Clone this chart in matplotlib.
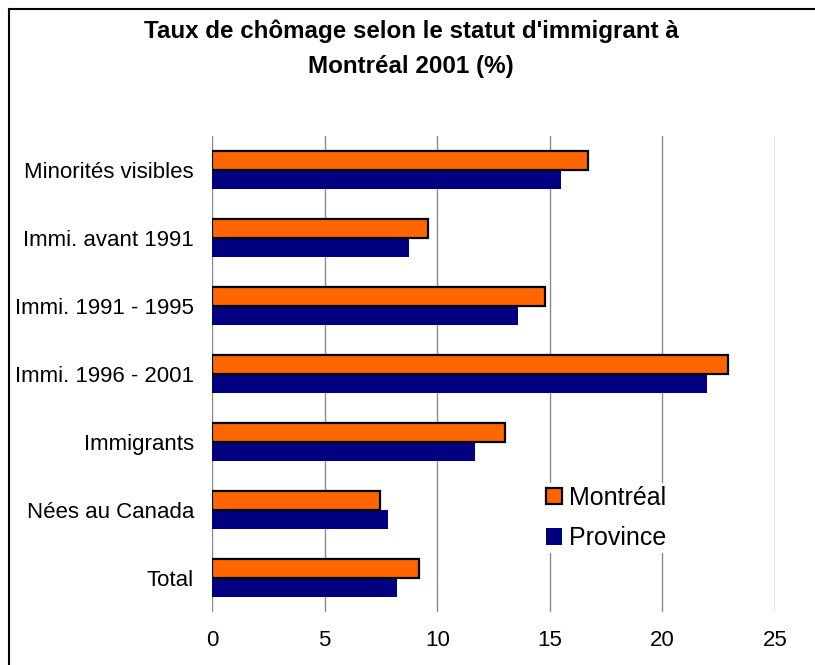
import matplotlib
matplotlib.use("Agg")
import matplotlib.pyplot as plt
import numpy as np
from matplotlib.lines import Line2D

plt.rcParams['font.family'] = ['Liberation Sans', 'DejaVu Sans']

categories = ["Minorités visibles", "Immi. avant 1991", "Immi. 1991 - 1995",
              "Immi. 1996 - 2001", "Immigrants", "Nées au Canada", "Total"]
montreal = [16.7, 9.6, 14.8, 22.9, 13.0, 7.45, 9.2]
province = [15.5, 8.75, 13.6, 22.0, 11.7, 7.8, 8.2]
xticks = [0, 5, 10, 15, 20, 25]
title_lines = ["Taux de chômage selon le statut d'immigrant à", "Montréal 2001 (%)"]

W, H = 815, 665
fig = plt.figure(figsize=(W / 100, H / 100), dpi=100)
ax = fig.add_axes([212 / W, 1 - 612 / H, (775 - 212) / W, (612 - 136) / H])

y = np.arange(len(categories))
bh = 0.275
ax.barh(y - 0.137, montreal, height=bh, color='#FF6600', edgecolor='black',
        linewidth=1.6, label='Montréal', zorder=3)
ax.barh(y + 0.137, province, height=bh, color='#000080', edgecolor='none',
        label='Province', zorder=2)

ax.set_xlim(0, 25)
ax.set_ylim(len(categories) - 0.5, -0.5)
ax.set_xticks(xticks)
ax.set_xticklabels([str(t) for t in xticks], fontsize=16)
ax.set_yticks(y)
ax.set_yticklabels(categories, fontsize=16)
ax.tick_params(axis='x', length=0, pad=13)
ax.tick_params(axis='y', length=0, pad=13)
for s in ax.spines.values():
    s.set_visible(False)
ax.grid(axis='x', color='#8c8c8c', linewidth=1.0, zorder=0)
ax.set_axisbelow(True)

leg = fig.legend(loc='center left', bbox_to_anchor=(543 / W, 1 - 518 / H),
                 fontsize=18, frameon=True, facecolor='white', edgecolor='none',
                 framealpha=1, borderpad=0.1, borderaxespad=0,
                 handlelength=0.65, handleheight=0.65, handletextpad=0.3,
                 labelspacing=0.65)

fig.text(411 / W, 1 - 31 / H, title_lines[0], ha='center', va='center',
         fontsize=17.4, fontweight='bold')
fig.text(411 / W, 1 - 66 / H, title_lines[1], ha='center', va='center',
         fontsize=17.4, fontweight='bold')

fig.add_artist(Line2D([8.5 / W, 8.5 / W], [0, 1 - 8.5 / H], color='black',
                      linewidth=1.5, transform=fig.transFigure))
fig.add_artist(Line2D([8.5 / W, 1], [1 - 8.5 / H, 1 - 8.5 / H], color='black',
                      linewidth=1.5, transform=fig.transFigure))

fig.savefig('out.png', dpi=100)
